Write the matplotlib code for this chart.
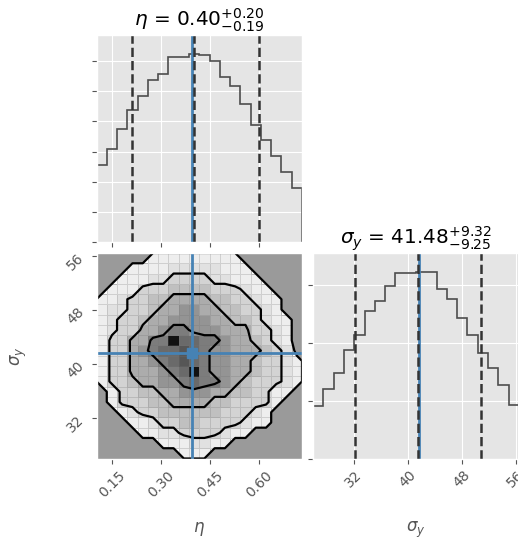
import numpy as np
import matplotlib
matplotlib.use("Agg")
import matplotlib.pyplot as plt
from matplotlib.colors import LinearSegmentedColormap
from matplotlib.ticker import MultipleLocator

plt.style.use("ggplot")

# ranges of the two parameters
eta_range = (0.103, 0.73)
sig_range = (26.0, 56.5)

# 1D histogram counts (20 bins each)
eta_counts = [256, 310, 376, 437, 484, 536, 557, 612, 612, 624,
              619, 599, 546, 516, 459, 388, 337, 286, 233, 179]
sig_counts = [181, 241, 295, 375, 429, 510, 544, 597, 642, 642,
              647, 647, 587, 552, 488, 429, 366, 315, 254, 186]

# quantiles (16, 50, 84) and truth values
eta_q = [0.21, 0.40, 0.60]
sig_q = [32.23, 41.48, 50.80]
eta_truth = 0.395
sig_truth = 41.7

eta_ticks = [0.15, 0.30, 0.45, 0.60]
eta_ticklabels = ["0.15", "0.30", "0.45", "0.60"]
sig_ticks = [32, 40, 48, 56]
sig_ticklabels = ["32", "40", "48", "56"]

# 2D density (shade level 0-10), rows from top (high sigma) to bottom
density = [
    [0,0,0,0,0,1,1,1,1,1,1,1,1,1,0,0,0,0,0,0],
    [0,0,0,1,1,1,1,2,2,2,2,2,1,1,1,0,0,0,0,0],
    [0,0,1,1,1,2,2,3,3,3,3,2,2,1,1,1,0,0,0,0],
    [0,1,1,1,3,3,3,4,4,4,4,3,3,3,2,1,1,0,0,0],
    [1,1,2,3,3,4,4,5,5,5,5,4,4,3,3,2,1,1,0,0],
    [1,2,2,3,3,4,5,5,6,6,5,5,4,4,3,3,2,1,0,0],
    [1,2,3,3,4,5,5,6,6,6,6,5,5,4,4,3,2,1,1,0],
    [1,2,3,3,5,5,6,7,7,6,6,6,5,5,5,3,3,2,1,0],
    [1,3,3,5,5,7,7,10,8,8,7,7,6,5,5,4,3,2,1,0],
    [1,3,3,5,6,7,8,8,9,8,7,6,6,5,5,5,4,3,2,0],
    [1,3,3,5,5,6,7,8,9,8,7,6,6,5,5,4,3,3,2,1],
    [1,3,3,5,5,5,6,7,8,10,7,6,6,5,5,4,3,3,2,1],
    [1,3,3,4,5,5,6,6,7,8,7,7,6,5,4,3,3,3,2,1],
    [0,1,3,3,4,4,5,5,6,6,6,5,5,4,4,3,3,1,1,0],
    [0,1,3,3,3,4,4,5,5,5,5,4,4,3,3,3,3,1,0,0],
    [0,0,1,2,3,3,4,4,4,4,4,4,3,3,3,2,1,0,0,0],
    [0,0,0,1,1,2,3,3,4,4,3,3,3,3,2,1,1,0,0,0],
    [0,0,0,0,1,1,2,2,3,3,3,3,2,1,1,0,0,0,0,0],
    [0,0,0,0,0,0,1,1,1,2,2,1,1,0,0,0,0,0,0,0],
    [0,0,0,0,0,0,0,0,1,1,1,0,0,0,0,0,0,0,0,0],
]
levels = [0.5, 2.5, 4.5, 6.5]

truth_color = "#4682b4"
W, H_PX = 518, 544


def px(l, t, r, b):
    return [l / W, 1 - b / H_PX, (r - l) / W, (b - t) / H_PX]


fig = plt.figure(figsize=(W / 100, H_PX / 100), dpi=100)
ax_top = fig.add_axes(px(96.5, 35, 302, 242))
ax_2d = fig.add_axes(px(96.5, 253, 302, 458.5))
ax_r = fig.add_axes(px(313, 253, 519, 458.5))

eta_edges = np.linspace(eta_range[0], eta_range[1], len(eta_counts) + 1)
sig_edges = np.linspace(sig_range[0], sig_range[1], len(sig_counts) + 1)

# --- eta histogram
ax_top.stairs(eta_counts, eta_edges, color="#4d4d4d", lw=1.2)
ax_top.axvline(eta_truth, color=truth_color, lw=2)
for q in eta_q:
    ax_top.axvline(q, ls="--", color="#333333", lw=1.8)
ax_top.set_xlim(eta_range)
ax_top.set_ylim(0, 1.1 * max(eta_counts))
ax_top.set_xticks(eta_ticks)
ax_top.yaxis.set_major_locator(MultipleLocator(100))
ax_top.tick_params(labelleft=False, labelbottom=False)
ax_top.set_title(r"$\eta$ = $0.40_{-0.19}^{+0.20}$", color="black")

# --- sigma_y histogram
ax_r.stairs(sig_counts, sig_edges, color="#4d4d4d", lw=1.2)
ax_r.axvline(sig_truth, color=truth_color, lw=2)
for q in sig_q:
    ax_r.axvline(q, ls="--", color="#333333", lw=1.8)
ax_r.set_xlim(sig_range)
ax_r.set_ylim(0, 1.1 * max(sig_counts))
ax_r.set_xticks(sig_ticks)
ax_r.set_xticklabels(sig_ticklabels, rotation=45)
ax_r.yaxis.set_major_locator(MultipleLocator(200))
ax_r.tick_params(labelleft=False)
ax_r.set_title(r"$\sigma_y$ = $41.48_{-9.25}^{+9.32}$", color="black")
ax_r.set_xlabel(r"$\sigma_y$")
ax_r.xaxis.set_label_coords(0.5, -0.3)

# --- 2D panel
ax_2d.set_facecolor("#9a9a9a")
ax_2d.grid(False)
dens = np.array(density[::-1], dtype=float)
dens_pad = np.pad(dens, 1)
ex = np.diff(eta_edges)[0]
ey = np.diff(sig_edges)[0]
xc = np.concatenate([[eta_edges[0] - ex / 2], 0.5 * (eta_edges[1:] + eta_edges[:-1]), [eta_edges[-1] + ex / 2]])
yc = np.concatenate([[sig_edges[0] - ey / 2], 0.5 * (sig_edges[1:] + sig_edges[:-1]), [sig_edges[-1] + ey / 2]])

cf = ax_2d.contourf(xc, yc, dens_pad, levels=[levels[0], dens.max() + 1], colors=["white"])
inside = cf.get_paths()[0]

dens_cmap = LinearSegmentedColormap.from_list(
    "dens", [(0, "#ffffff"), (0.1, "#eeeeee"), (0.3, "#d3d3d3"), (0.5, "#acacac"),
             (0.7, "#7c7c7c"), (0.9, "#575757"), (1.0, "#111111")])
mesh = ax_2d.pcolormesh(eta_edges, sig_edges, np.ma.masked_less(dens, 0.5), cmap=dens_cmap,
                        vmin=0, vmax=10, edgecolors=(0.45, 0.45, 0.45, 0.25), linewidth=0.5)
mesh.set_clip_path(inside, ax_2d.transData)
ax_2d.contour(xc, yc, dens_pad, levels=levels, colors="k", linewidths=1.6)

ax_2d.axvline(eta_truth, color=truth_color, lw=2)
ax_2d.axhline(sig_truth, color=truth_color, lw=2)
ax_2d.plot(eta_truth, sig_truth, "s", color=truth_color, ms=7)
ax_2d.set_xlim(eta_range)
ax_2d.set_ylim(sig_range)
ax_2d.set_xticks(eta_ticks)
ax_2d.set_xticklabels(eta_ticklabels, rotation=45)
ax_2d.set_yticks(sig_ticks)
ax_2d.set_yticklabels(sig_ticklabels, rotation=45)
ax_2d.set_xlabel(r"$\eta$")
ax_2d.set_ylabel(r"$\sigma_y$")
ax_2d.xaxis.set_label_coords(0.5, -0.3)
ax_2d.yaxis.set_label_coords(-0.33, 0.5)

fig.savefig("out.png", dpi=100)
